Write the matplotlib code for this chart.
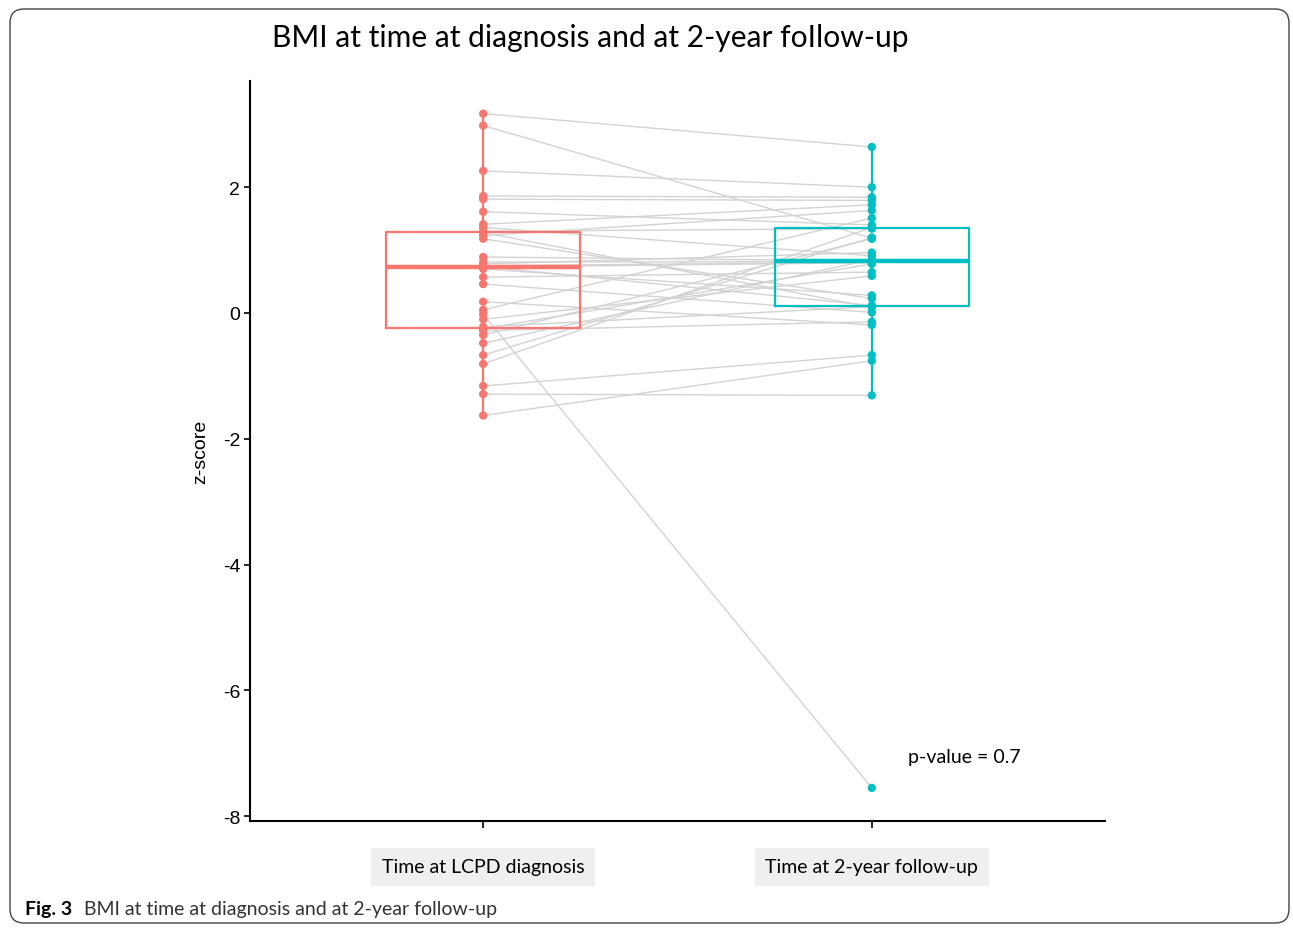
import matplotlib
matplotlib.use("Agg")
import matplotlib.pyplot as plt
from matplotlib.patches import FancyBboxPatch
from matplotlib.transforms import IdentityTransform
import numpy as np

# paired z-scores (same order = same patient)
at_diagnosis = [3.17, 2.98, 2.26, 1.86, 1.81, 1.61, 1.41, 1.36, 1.30, 1.28,
                1.23, 1.18, 0.89, 0.81, 0.78, 0.75, 0.74, 0.73, 0.70, 0.57,
                0.46, 0.18, 0.05, -0.02, -0.10, -0.22, -0.25, -0.28, -0.35,
                -0.48, -0.67, -0.81, -1.16, -1.29, -1.63]
at_followup = [2.64, 1.19, 2.00, 1.84, 1.79, 1.40, 1.72, 0.91, 1.34, 0.09,
               1.63, 0.23, 0.83, 0.82, 0.96, 0.81, 0.12, 0.80, 0.28, 0.65,
               0.01, -0.19, 1.51, -7.55, 0.59, 0.10, 0.78, -0.14, 1.18,
               0.85, 1.20, 1.36, -0.67, -1.31, -0.76]
groups = ["Time at LCPD diagnosis", "Time at 2-year follow-up"]
colors = ["#F8766D", "#00BFC4"]
y_ticks = [2, 0, -2, -4, -6, -8]

W, H = 1293, 929
fig = plt.figure(figsize=(W / 100, H / 100), dpi=100)
ax = fig.add_axes([250 / W, 1 - 822 / H, (1105 - 250) / W, (822 - 82) / H])

# grey pairing lines
for a, b in zip(at_diagnosis, at_followup):
    ax.plot([1, 2], [a, b], color="#d3d3d3", lw=1.0, zorder=1)

# boxplots (ggplot-style whiskers)
stats = []
for vals in (at_diagnosis, at_followup):
    v = np.array(vals)
    q1, med, q3 = np.percentile(v, [25, 50, 75])
    iqr = q3 - q1
    inside = v[(v >= q1 - 1.5 * iqr) & (v <= q3 + 1.5 * iqr)]
    stats.append(dict(q1=q1, med=med, q3=q3, whislo=inside.min(),
                      whishi=inside.max(), fliers=[]))
for i, (st, c) in enumerate(zip(stats, colors)):
    ax.bxp([st], positions=[i + 1], widths=0.5, showcaps=False,
           showfliers=False, manage_ticks=False,
           boxprops=dict(color=c, lw=1.6),
           whiskerprops=dict(color=c, lw=1.6),
           medianprops=dict(color=c, lw=3.2), zorder=2)

# points
for i, (vals, c) in enumerate(zip([at_diagnosis, at_followup], colors)):
    ax.scatter([i + 1] * len(vals), vals, s=36, color=c, edgecolors="none", zorder=3)

ax.set_xlim(0.4, 2.6)
ax.set_ylim((314 - 822) / 62.9, (314 - 82) / 62.9)
ax.set_yticks(y_ticks)
ax.set_yticklabels([str(t) for t in y_ticks], family="Liberation Sans", fontsize=14)
ax.set_xticks([1, 2])
ax.set_xticklabels(groups, family="Lato", fontsize=14)
for lbl in ax.get_xticklabels():
    lbl.set_bbox(dict(boxstyle="square,pad=0.55", facecolor="#efefef", edgecolor="none"))
ax.tick_params(axis="x", length=5, width=1.2, pad=22)
ax.tick_params(axis="y", length=4, width=1.2, pad=3)
ax.set_ylabel("z-score", family="Liberation Sans", fontsize=14, labelpad=10)
for s in ("top", "right"):
    ax.spines[s].set_visible(False)
for s in ("left", "bottom"):
    ax.spines[s].set_linewidth(1.5)

ax.text(2.093, (314 - 757) / 62.9, "p-value = 0.7", family="Lato", fontsize=14,
        va="center", ha="left")

fig.text(590 / W, 1 - 38 / H, "BMI at time at diagnosis and at 2-year foIlow-up",
         family="Lato", fontsize=21.6, ha="center", va="center")
fig.text(25 / W, 1 - 910 / H, "Fig. 3", family="Lato", fontweight="bold",
         fontsize=14, ha="left", va="center")
fig.text(84 / W, 1 - 910 / H, "BMI at time at diagnosis and at 2-year follow-up",
         family="Lato", fontsize=14, ha="left", va="center", color="#333333")

border = FancyBboxPatch((10, 5), W - 14, H - 15, boxstyle="round,pad=0,rounding_size=14",
                        transform=IdentityTransform(), fill=False,
                        edgecolor="#444444", lw=1.0)
fig.add_artist(border)

fig.savefig("out.png", dpi=100)
